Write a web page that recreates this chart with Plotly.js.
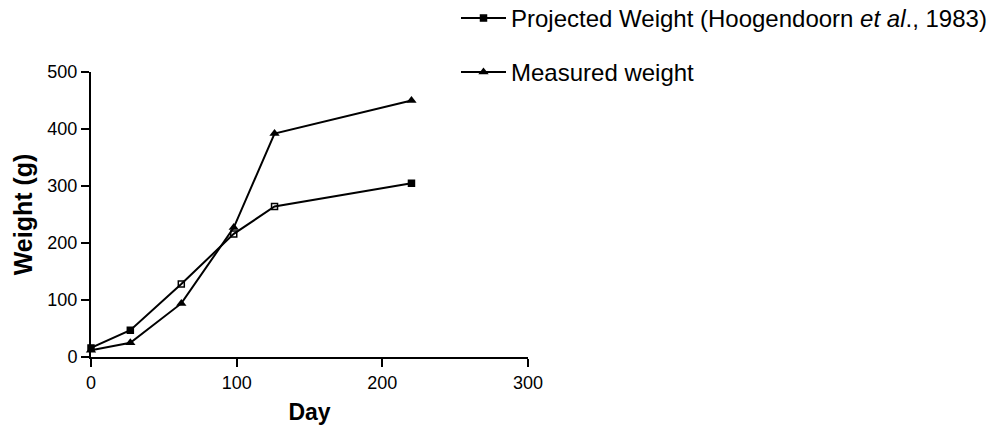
<!DOCTYPE html>
<html>
<head>
<meta charset="utf-8">
<script src="https://cdn.plot.ly/plotly-3.0.1.min.js"></script>
<style>html,body{margin:0;padding:0;background:#fff;}#chart{width:991px;height:425px;}</style>
</head>
<body>
<div id="chart"></div>
<script>
const days = [0, 27, 62, 98, 126, 220];
const projectedWeight = [16, 47, 128, 216, 264, 305];
const measuredWeight = [12, 25, 94, 227, 392, 450];
const xTicks = [0, 100, 200, 300];
const yTicks = [0, 100, 200, 300, 400, 500];
const projectedName = 'Projected Weight (Hoogendoorn <i>et al</i>., 1983)';
const measuredName = 'Measured weight';

const font = 'Arial, "Liberation Sans", Helvetica, sans-serif';
const M = {l: 91, r: 463, t: 72, b: 68};
const plotW = 991 - M.l - M.r, plotH = 425 - M.t - M.b;
const px2x = p => (p - M.l) / plotW;
const py2y = p => 1 - (p - M.t) / plotH;

const traces = [
  {
    x: days, y: projectedWeight, name: projectedName, type: 'scatter', mode: 'lines+markers',
    line: {color: '#000', width: 2},
    marker: {symbol: ['square','square','square-open','square-open','square-open','square'], size: 6, color: '#000', line: {color: '#000', width: 1.5}},
    cliponaxis: false, legend: 'legend'
  },
  {
    x: days, y: measuredWeight, name: measuredName, type: 'scatter', mode: 'lines+markers',
    line: {color: '#000', width: 2},
    marker: {symbol: 'triangle-up', size: 9, color: '#000'},
    cliponaxis: false, legend: 'legend2'
  }
];

const legFont = {family: font, size: 24, color: '#000'};
const layout = {
  width: 991, height: 425,
  margin: Object.assign({autoexpand: false}, M),
  paper_bgcolor: '#fff', plot_bgcolor: '#fff',
  font: {family: font, color: '#000', size: 18},
  showlegend: true,
  legend: {x: px2x(456), y: py2y(-4), xanchor: 'left', yanchor: 'top', itemwidth: 45,
    font: legFont, bgcolor: 'rgba(0,0,0,0)'},
  legend2: {x: px2x(456), y: py2y(50), xanchor: 'left', yanchor: 'top', itemwidth: 45,
    font: legFont, bgcolor: 'rgba(0,0,0,0)'},
  xaxis: {
    range: [0, 300], tickvals: xTicks, ticktext: xTicks.map(String),
    showgrid: false, zeroline: false, showline: true, linecolor: '#000', linewidth: 2,
    ticks: 'outside', ticklen: 8, tickwidth: 2, tickcolor: '#000',
    tickfont: {family: font, size: 18, color: '#000'},
    title: {text: '<b>Day</b>', font: {family: font, size: 23, color: '#000'}, standoff: 12}
  },
  yaxis: {
    range: [0, 500], tickvals: yTicks, ticktext: yTicks.map(String),
    showgrid: false, zeroline: false, showline: true, linecolor: '#000', linewidth: 2,
    ticks: 'outside', ticklen: 8, tickwidth: 2, tickcolor: '#000',
    tickfont: {family: font, size: 18, color: '#000'},
    title: {text: '<b>Weight (g)</b>', font: {family: font, size: 25, color: '#000'}, standoff: 8}
  }
};

Plotly.newPlot('chart', traces, layout, {displayModeBar: false, staticPlot: true});
</script>
</body>
</html>
